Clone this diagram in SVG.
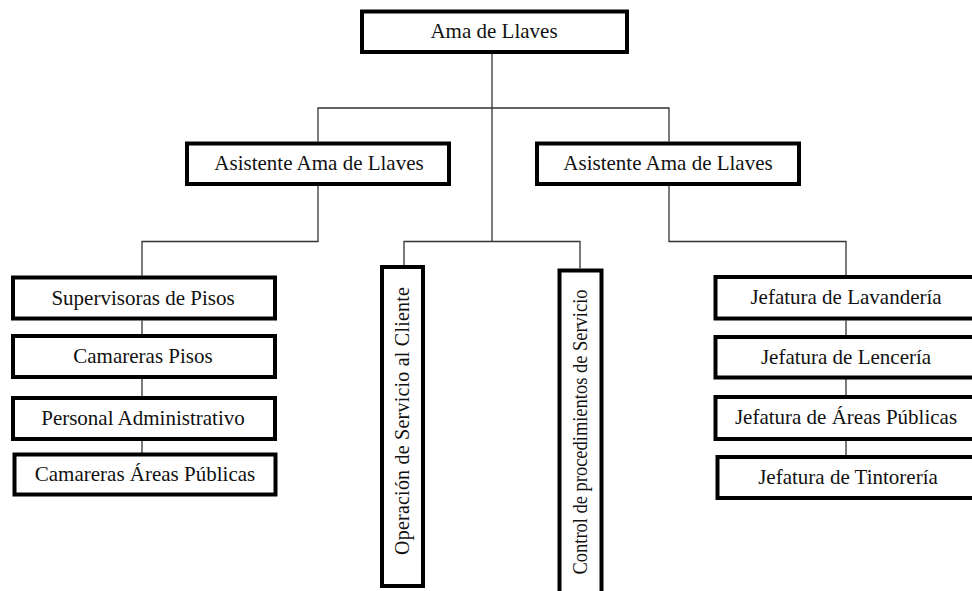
<svg xmlns="http://www.w3.org/2000/svg" width="972" height="591" viewBox="0 0 972 591">
<style>
.box{fill:#fff;stroke:#000;stroke-width:4}
.lbl{font-family:"Liberation Serif","Times New Roman",serif;font-size:21px;fill:#111;text-anchor:middle}
.vlbl{font-family:"Liberation Serif","Times New Roman",serif;font-size:20px;fill:#111;text-anchor:middle}
.conn{fill:none;stroke:#333;stroke-width:1.3}
</style>
<rect width="972" height="591" fill="#fff"/>
<g id="connectors" class="conn">
<path d="M492,54 V241"/>
<path d="M318,141.5 V108 H669 V141.5"/>
<path d="M404,265 V241.5 H580 V268.5"/>
<path d="M318,186 V241.5 H142 V275.5"/>
<path d="M142,320.5 V334"/>
<path d="M142,379 V396"/>
<path d="M142,441 V453"/>
<path d="M669,186 V241.5 H846 V275"/>
<path d="M846,320.5 V335"/>
<path d="M846,379 V395"/>
<path d="M846,441 V455"/>
</g>
<g id="ama">
<rect class="box" x="362" y="11.5" width="265" height="40.5"/>
<text class="lbl" x="494" y="38">Ama de Llaves</text>
</g>
<g id="asistente-izq">
<rect class="box" x="187" y="143.5" width="262" height="40.5"/>
<text class="lbl" x="319" y="170">Asistente Ama de Llaves</text>
</g>
<g id="asistente-der">
<rect class="box" x="537" y="143.5" width="262" height="40.5"/>
<text class="lbl" x="668" y="170">Asistente Ama de Llaves</text>
</g>
<g id="supervisoras">
<rect class="box" x="13" y="277.5" width="262" height="41"/>
<text class="lbl" x="143" y="305">Supervisoras de Pisos</text>
</g>
<g id="camareras-pisos">
<rect class="box" x="13" y="336" width="262" height="41"/>
<text class="lbl" x="143" y="363">Camareras Pisos</text>
</g>
<g id="personal">
<rect class="box" x="13" y="398" width="262" height="41"/>
<text class="lbl" x="143" y="425">Personal Administrativo</text>
</g>
<g id="camareras-areas">
<rect class="box" x="14.5" y="454.5" width="261" height="40"/>
<text class="lbl" x="145" y="481">Camareras Áreas Públicas</text>
</g>
<g id="operacion">
<rect class="box" x="382" y="267" width="41" height="319"/>
<text class="vlbl" transform="translate(402,421) rotate(-90)" y="7" textLength="268" lengthAdjust="spacing">Operación de Servicio al Cliente</text>
</g>
<g id="control">
<rect class="box" x="559.5" y="270.5" width="42" height="330"/>
<text class="vlbl" transform="translate(580,432) rotate(-90)" y="7" textLength="285" lengthAdjust="spacingAndGlyphs">Control de procedimientos de Servicio</text>
</g>
<g id="lavanderia">
<rect class="box" x="715.5" y="277" width="263" height="41.5"/>
<text class="lbl" x="846" y="304">Jefatura de Lavandería</text>
</g>
<g id="lenceria">
<rect class="box" x="715.5" y="337" width="263" height="40.5"/>
<text class="lbl" x="846" y="364">Jefatura de Lencería</text>
</g>
<g id="areas-publicas">
<rect class="box" x="715.5" y="397" width="263" height="42"/>
<text class="lbl" x="846" y="424">Jefatura de Áreas Públicas</text>
</g>
<g id="tintoreria">
<rect class="box" x="717.5" y="457" width="263" height="41"/>
<text class="lbl" x="848" y="484">Jefatura de Tintorería</text>
</g>
</svg>
